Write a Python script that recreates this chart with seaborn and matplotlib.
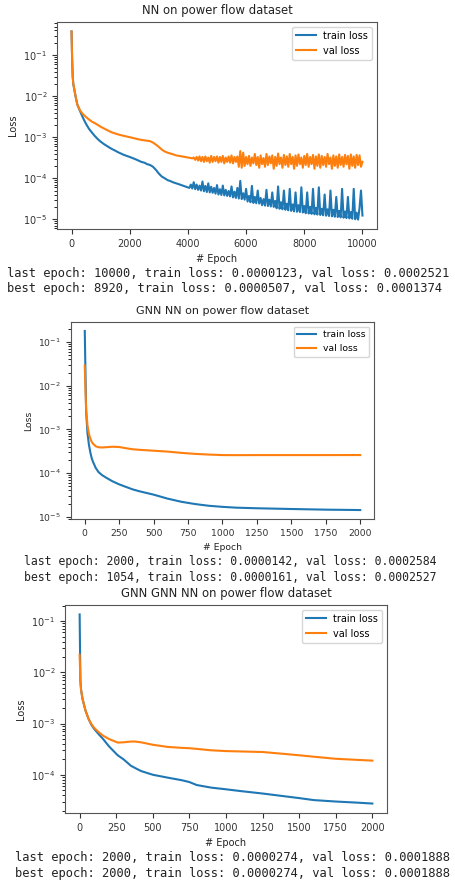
import numpy as np
import matplotlib
matplotlib.use("Agg")
import matplotlib.pyplot as plt
import seaborn as sns

# NN run: curves; every 100 epochs up to 4000,
# then every 50 epochs where the losses get noisy
nn_epochs = ([0, 20, 40, 60, 100, 150, 200, 300] + list(range(400, 4001, 100))
             + list(range(4050, 10001, 50)))
nn_train = [0.38, 0.08, 0.03, 0.02, 0.014, 0.009, 0.0062, 0.0042,
            0.0029, 0.0021, 0.0016, 0.0013, 0.00107, 0.0009, 0.00078,
            0.00069, 0.00062, 0.00056, 0.00051, 0.00047, 0.00043, 0.0004,
            0.00037, 0.00035, 0.00033, 0.00031, 0.00029, 0.00027, 0.00025,
            0.00024, 0.00022, 0.00021, 0.00019, 0.00016, 0.00013, 0.00011,
            0.0001, 9.0e-5, 8.5e-5, 7.9e-5, 7.5e-5, 7.1e-5, 6.7e-5, 6.3e-5,
            6.0e-5,
            5.8e-5, 7.0e-5, 5.6e-5, 8.0e-5, 5.4e-5, 7.0e-5, 5.2e-5, 6.6e-5, 5.0e-5, 8.3e-5,
            4.8e-5, 6.5e-5, 4.6e-5, 7.5e-5, 4.5e-5, 6.2e-5, 4.4e-5, 5.8e-5, 4.2e-5, 6.8e-5,
            4.0e-5, 5.4e-5, 3.9e-5, 6.6e-5, 3.8e-5, 5.2e-5, 3.7e-5, 4.9e-5, 3.6e-5, 6.3e-5,
            3.4e-5, 4.7e-5, 3.3e-5, 5.8e-5, 3.2e-5, 8.6e-5, 3.1e-5, 4.3e-5, 3.0e-5, 5.5e-5,
            2.7e-5, 3.7e-5, 2.6e-5, 6.5e-5, 2.5e-5, 3.5e-5, 2.45e-5, 5.0e-5, 2.4e-5, 3.3e-5,
            2.2e-5, 3.1e-5, 2.15e-5, 5.2e-5, 2.1e-5, 3.0e-5, 2.05e-5, 4.5e-5, 2.0e-5, 2.8e-5,
            1.85e-5, 6.3e-5, 1.8e-5, 2.6e-5, 1.75e-5, 5.0e-5, 1.7e-5, 2.4e-5, 1.65e-5, 5.5e-5,
            1.6e-5, 2.3e-5, 1.55e-5, 4.5e-5, 1.52e-5, 2.2e-5, 1.5e-5, 6.0e-5, 1.46e-5, 2.1e-5,
            1.4e-5, 4.5e-5, 1.38e-5, 2.0e-5, 1.35e-5, 5.5e-5, 1.32e-5, 1.9e-5, 1.3e-5, 6.0e-5,
            1.27e-5, 1.8e-5, 1.25e-5, 4.0e-5, 1.22e-5, 1.75e-5, 1.2e-5, 5.0e-5, 1.18e-5, 1.7e-5,
            1.15e-5, 3.5e-5, 1.13e-5, 1.6e-5, 1.11e-5, 5.5e-5, 1.09e-5, 1.55e-5, 1.07e-5, 3.5e-5,
            1.05e-5, 1.5e-5, 1.03e-5, 5.5e-5, 1.0e-5, 1.45e-5, 9.8e-6, 1.9e-5, 5.0e-5, 1.23e-5]
nn_val = [0.38, 0.08, 0.03, 0.02, 0.014, 0.009, 0.0062, 0.0044,
          0.0036, 0.0031, 0.0027, 0.0024, 0.0022, 0.002, 0.0018,
          0.00165, 0.00152, 0.0014, 0.0013, 0.00123, 0.00117, 0.00112,
          0.00108, 0.00104, 0.001, 0.00096, 0.00092, 0.00089, 0.00086,
          0.00084, 0.00082, 0.0008, 0.00074, 0.00066, 0.00058, 0.0005,
          0.00045, 0.00042, 0.0004, 0.00038, 0.00036, 0.00035, 0.00034,
          0.00033, 0.00032,
          3.15e-4, 3.1e-4, 3.05e-4, 3.2e-4, 2.8e-4, 3.3e-4, 2.7e-4, 3.4e-4, 2.6e-4, 3.3e-4,
          2.5e-4, 3.4e-4, 2.6e-4, 3.2e-4, 2.4e-4, 3.5e-4, 2.5e-4, 3.3e-4, 2.6e-4, 3.4e-4,
          2.4e-4, 3.3e-4, 2.5e-4, 3.5e-4, 2.3e-4, 3.2e-4, 2.5e-4, 3.4e-4, 2.4e-4, 3.6e-4,
          2.3e-4, 3.3e-4, 2.5e-4, 3.4e-4, 1.9e-4, 4.6e-4, 1.8e-4, 4.2e-4, 2.0e-4, 3.3e-4,
          2.2e-4, 3.5e-4, 2.0e-4, 3.2e-4, 2.3e-4, 3.9e-4, 2.1e-4, 3.3e-4, 1.8e-4, 3.6e-4,
          2.2e-4, 3.1e-4, 1.9e-4, 3.9e-4, 2.1e-4, 3.4e-4, 2.3e-4, 3.6e-4, 1.7e-4, 3.3e-4,
          2.0e-4, 4.0e-4, 2.2e-4, 3.2e-4, 1.8e-4, 3.7e-4, 2.1e-4, 3.4e-4, 1.9e-4, 3.9e-4,
          2.2e-4, 3.3e-4, 1.7e-4, 3.6e-4, 2.0e-4, 3.8e-4, 2.2e-4, 3.2e-4, 1.8e-4, 3.5e-4,
          2.1e-4, 3.9e-4, 1.9e-4, 3.3e-4, 2.2e-4, 3.7e-4, 1.7e-4, 3.4e-4, 2.0e-4, 3.8e-4,
          1.8e-4, 3.5e-4, 2.1e-4, 3.3e-4, 1.9e-4, 3.9e-4, 2.2e-4, 3.2e-4, 1.7e-4, 3.6e-4,
          2.0e-4, 3.4e-4, 1.8e-4, 3.8e-4, 2.1e-4, 3.3e-4, 1.9e-4, 3.7e-4, 2.2e-4, 3.5e-4,
          1.7e-4, 3.8e-4, 2.0e-4, 3.4e-4, 1.8e-4, 3.7e-4, 2.1e-4, 3.6e-4, 1.9e-4, 2.52e-4]

# GNN NN run
gnn_epochs = [0, 5, 10, 20, 30, 40, 50, 60, 80, 100, 125, 150, 200, 250,
              300, 350, 400, 500, 600, 700, 800, 900, 1000, 1100, 1250,
              1500, 1750, 2000]
gnn_train = [0.18, 0.02, 2.5e-3, 8e-4, 4.5e-4, 3e-4, 2.2e-4, 1.8e-4, 1.3e-4,
             1.05e-4, 9e-5, 8e-5, 6.5e-5, 5.5e-5, 4.8e-5, 4.2e-5, 3.8e-5,
             3.2e-5, 2.6e-5, 2.2e-5, 1.95e-5, 1.78e-5, 1.68e-5, 1.61e-5,
             1.56e-5, 1.5e-5, 1.45e-5, 1.42e-5]
gnn_val = [0.029, 0.008, 2.8e-3, 1.2e-3, 8e-4, 6.2e-4, 5.2e-4, 4.7e-4, 4.1e-4,
           3.9e-4, 3.85e-4, 3.9e-4, 4.0e-4, 3.95e-4, 3.7e-4, 3.5e-4, 3.4e-4,
           3.25e-4, 3.1e-4, 2.9e-4, 2.75e-4, 2.65e-4, 2.58e-4, 2.57e-4,
           2.58e-4, 2.58e-4, 2.58e-4, 2.584e-4]

# GNN GNN NN run
gg_epochs = [0, 5, 10, 20, 40, 60, 80, 100, 130, 160, 200, 260, 300, 350,
             380, 420, 500, 600, 700, 750, 800, 900, 1000, 1100, 1250, 1400,
             1500, 1600, 1750, 1900, 2000]
gg_train = [0.135, 7e-3, 4.5e-3, 3e-3, 1.8e-3, 1.25e-3, 9.5e-4, 7.8e-4,
            6.2e-4, 5e-4, 3.6e-4, 2.4e-4, 2.0e-4, 1.5e-4, 1.35e-4, 1.18e-4,
            1.0e-4, 8.8e-5, 7.8e-5, 7.2e-5, 6.3e-5, 5.6e-5, 5.2e-5, 4.8e-5,
            4.3e-5, 3.8e-5, 3.5e-5, 3.2e-5, 3.0e-5, 2.85e-5, 2.74e-5]
gg_val = [0.022, 7e-3, 4.5e-3, 3e-3, 1.8e-3, 1.25e-3, 9.8e-4, 8.2e-4,
          6.8e-4, 5.8e-4, 5.0e-4, 4.25e-4, 4.3e-4, 4.45e-4, 4.45e-4, 4.3e-4,
          3.85e-4, 3.5e-4, 3.35e-4, 3.3e-4, 3.2e-4, 3.0e-4, 2.9e-4, 2.85e-4,
          2.78e-4, 2.55e-4, 2.4e-4, 2.25e-4, 2.05e-4, 1.95e-4, 1.888e-4]

titles = ["NN on power flow dataset", "GNN NN on power flow dataset",
          "GNN GNN NN on power flow dataset"]
summaries = [
    ["last epoch: 10000, train loss: 0.0000123, val loss: 0.0002521",
     "best epoch: 8920, train loss: 0.0000507, val loss: 0.0001374"],
    ["last epoch: 2000, train loss: 0.0000142, val loss: 0.0002584",
     "best epoch: 1054, train loss: 0.0000161, val loss: 0.0002527"],
    ["last epoch: 2000, train loss: 0.0000274, val loss: 0.0001888",
     "best epoch: 2000, train loss: 0.0000274, val loss: 0.0001888"],
]

W, H = 456, 886
fig = plt.figure(figsize=(W / 100, H / 100), dpi=100)

# pixel boxes (left, top, right, bottom) of each plot, text x / y / size
boxes = [(57, 22, 377, 229), (71, 322, 374, 519), (65, 605, 387, 813)]
text_pos = [(7, 273, 289, 8.75), (24, 561, 577, 8.3), (15, 857, 874, 8.75)]
runs = [(nn_epochs, nn_train, nn_val),
        (gnn_epochs, gnn_train, gnn_val),
        (gg_epochs, gg_train, gg_val)]
scale = [1.0, 0.95, 1.0]

for i in range(3):
    l, t, r, b = boxes[i]
    ax = fig.add_axes([l / W, 1 - b / H, (r - l) / W, (b - t) / H])
    ep, tr, va = runs[i]
    s = scale[i]
    sns.lineplot(x=ep, y=tr, ax=ax, label="train loss", color="#1f77b4",
                 linewidth=1.5, sort=False)
    sns.lineplot(x=ep, y=va, ax=ax, label="val loss", color="#ff7f0e",
                 linewidth=1.5, sort=False)
    ax.set_yscale("log")
    if i > 0:
        ax.set_xticks(range(0, 2001, 250))
    ax.tick_params(labelsize=7 * s, colors="#333333")
    ax.set_title(titles[i], fontsize=8.4 * s, color="#222222")
    ax.set_xlabel("# Epoch", fontsize=7 * s, color="#222222")
    ax.set_ylabel("Loss", fontsize=7 * s, color="#222222")
    for sp in ax.spines.values():
        sp.set_color("#555555")
    ax.legend(loc="upper right", fontsize=7 * s)

    tx, y1, y2, fs = text_pos[i]
    for line, yy in zip(summaries[i], [y1, y2]):
        fig.text(tx / W, 1 - yy / H, line, family="DejaVu Sans Mono",
                 fontsize=fs, va="center", ha="left", color="#222222")

fig.savefig("out.png", dpi=100)
